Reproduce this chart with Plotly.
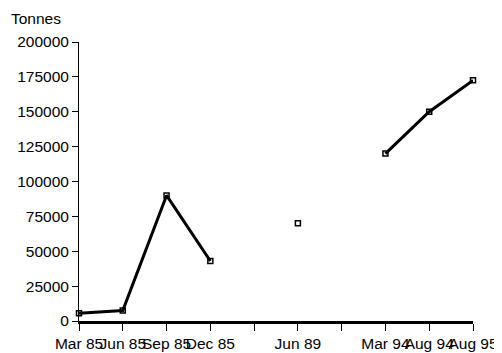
import plotly.graph_objects as go

categories = ["Mar 85", "Jun 85", "Sep 85", "Dec 85", "", "Jun 89", "", "Mar 94", "Aug 94", "Aug 95"]
tonnes = [5500, 7500, 90000, 43000, None, 70000, None, 120000, 150000, 172500]
y_ticks = [0, 25000, 50000, 75000, 100000, 125000, 150000, 175000, 200000]

positions = list(range(len(categories)))

fig = go.Figure()
fig.add_trace(go.Scatter(
    x=positions, y=tonnes, mode="lines+markers",
    line=dict(color="black", width=3),
    marker=dict(symbol="square-open", size=5, color="black", line=dict(width=1.5, color="black")),
    connectgaps=False, cliponaxis=False, showlegend=False,
))

font = dict(family="Liberation Sans, Arial, sans-serif", size=15.5, color="black")

# page body has an 8px default margin, so the figure is offset by (8, 8)
fig.update_layout(
    width=494, height=345,
    margin=dict(l=71, r=29, t=34, b=32, autoexpand=False),
    paper_bgcolor="white", plot_bgcolor="white",
    font=font,
    xaxis=dict(
        range=[0, len(categories) - 1], automargin=False,
        tickmode="array", tickvals=positions, ticktext=categories,
        showgrid=False, zeroline=False,
        showline=True, linecolor="black", linewidth=2.5,
        ticks="outside", ticklen=7, tickwidth=1, tickcolor="black",
        tickangle=0, tickfont=font,
    ),
    yaxis=dict(
        range=[0, 200000], automargin=False,
        tickmode="array", tickvals=y_ticks, ticktext=[str(v) for v in y_ticks],
        showgrid=False, zeroline=False,
        showline=True, linecolor="black", linewidth=1,
        ticks="outside", ticklen=6, tickwidth=1, tickcolor="black",
        tickfont=font,
    ),
    annotations=[dict(
        text="Tonnes", xref="paper", yref="paper", x=-70/394, y=1 + 24/279,
        xanchor="left", yanchor="middle", showarrow=False, font=font,
    )],
)

fig.write_html("out.html")
